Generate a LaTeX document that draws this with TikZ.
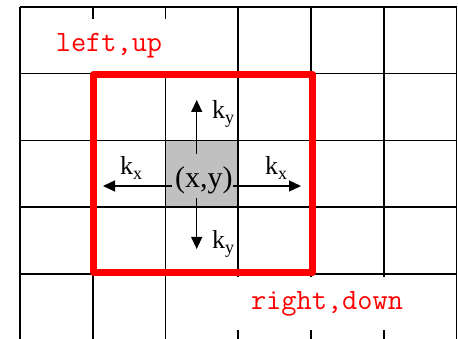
\documentclass[tikz,border=0pt]{standalone}
\usepackage{fontspec}
\setmainfont{Liberation Serif}
\usetikzlibrary{arrows.meta}
\definecolor{boxred}{RGB}{255,0,0}
\definecolor{cellgray}{RGB}{192,192,192}
\newcommand{\ksub}[1]{k\raisebox{-5pt}{\fontsize{18}{18}\selectfont #1}}

\begin{document}
\begin{tikzpicture}[x=1pt, y=-1pt,
    gridline/.style={line width=1.6pt, black},
    karrow/.style={line width=1.3pt, -{Triangle[length=12pt,width=11pt]}},
    klabel/.style={font=\fontsize{26}{26}\selectfont, inner sep=0pt, anchor=base west},
    dirlabel/.style={font=\ttfamily\fontsize{29.5}{29.5}\selectfont, text=boxred, fill=white,
                     minimum height=53pt, inner sep=0pt}]
  \useasboundingbox (0,0) rectangle (458,339);
  % centre cell
  \node[fill=cellgray, minimum width=72.75pt, minimum height=66.7pt, inner sep=0pt] (cell) at (201.9,173.75) {};
  % grid
  \foreach \i in {0,...,6}
    \draw[gridline] (20+72.75*\i,7) -- (20+72.75*\i,340);
  \foreach \j in {0,...,4}
    \draw[gridline] (20,7+66.7*\j) -- (456.5,7+66.7*\j);
  % corner labels
  \node[dirlabel, minimum width=140pt] (leftup) at (109,45.5) {left,up};
  \node[dirlabel, minimum width=190pt] (rightdown) at (327,303.5) {right,down};
  % window
  \draw[boxred, line width=7pt, line join=round] (93.5,74.5) rectangle (312.5,273);
  % kernel arrows
  \node[font=\fontsize{30}{30}\selectfont, inner sep=0pt, anchor=base west] (xy) at (175,188) {(x,y)};
  \coordinate (upS) at (196.7,154);   \coordinate (upE) at (196.7,100);
  \coordinate (dnS) at (196.7,198);   \coordinate (dnE) at (196.7,249);
  \coordinate (ltS) at (171.7,186);   \coordinate (ltE) at (103,186);
  \coordinate (rtS) at (233,186);     \coordinate (rtE) at (301,186);
  \draw[karrow] (upS) -- (upE);
  \draw[karrow] (dnS) -- (dnE);
  \draw[karrow] (ltS) -- (ltE);
  \draw[karrow] (rtS) -- (rtE);
  \node[klabel] (kyup) at (212,119) {\ksub{y}};
  \node[klabel] (kydown) at (212,249) {\ksub{y}};
  \node[klabel] (kxleft) at (120,175) {\ksub{x}};
  \node[klabel] (kxright) at (265,175) {\ksub{x}};
\end{tikzpicture}
\end{document}
